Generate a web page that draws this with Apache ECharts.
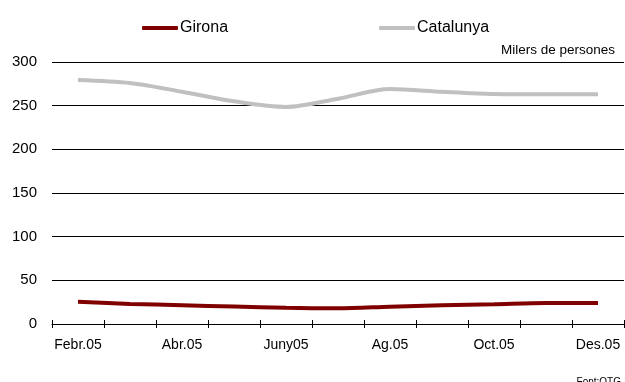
<!DOCTYPE html>
<html>
<head>
<meta charset="utf-8">
<script src="https://cdn.jsdelivr.net/npm/echarts@6/dist/echarts.min.js"></script>
<style>
  html, body { margin: 0; padding: 0; background: #fff; }
  #chart { width: 625px; height: 382px; }
</style>
</head>
<body>
<div id="chart"></div>
<script>
// mesos (febrer - desembre 2005)
var months = ["Febr.05", "Març.05", "Abr.05", "Maig.05", "Juny05", "Jul.05",
              "Ag.05", "Set.05", "Oct.05", "Nov.05", "Des.05"];
var girona = [25.5, 23, 21.5, 20, 18.5, 18, 19.8, 21.4, 22.6, 24, 24];
var catalunya = [279.5, 276, 266, 255, 248.5, 258, 269, 266, 263.5, 263, 263];
var yTicks = { min: 0, max: 300, step: 50 };

var font = "Liberation Sans, Arial, sans-serif";
var chart = echarts.init(document.getElementById("chart"));

var option = {
  animation: false,
  textStyle: { fontFamily: font },
  legend: {
    left: 137,
    top: 15,
    itemWidth: 36,
    itemHeight: 4,
    itemGap: 151,
    icon: "roundRect",
    textStyle: { fontSize: 16, color: "#000", padding: [0, 0, 0, -3] },
    data: ["Girona", "Catalunya"]
  },
  graphic: [
    {
      type: "text",
      right: 10,
      top: 43,
      style: { text: "Milers de persones", fontSize: 13.5, fill: "#000", fontFamily: font }
    },
    {
      type: "text",
      right: 4,
      top: 377,
      style: { text: "Font:OTG", fontSize: 10, fill: "#000", fontFamily: font }
    }
  ],
  grid: { left: 52, right: 1, top: 62, bottom: 58 },
  xAxis: [
    {
      type: "category",
      data: months,
      boundaryGap: true,
      axisLine: { lineStyle: { color: "#000", width: 1 } },
      axisTick: { show: true, interval: 0, length: 4, lineStyle: { color: "#000" } },
      axisLabel: { interval: 1, color: "#000", fontSize: 14, margin: 14 }
    },
    {
      type: "category",
      data: months,
      position: "bottom",
      boundaryGap: true,
      axisLine: { show: false },
      axisTick: { show: true, interval: 0, inside: true, length: 4, lineStyle: { color: "#000" } },
      axisLabel: { show: false }
    }
  ],
  yAxis: {
    type: "value",
    min: yTicks.min,
    max: yTicks.max,
    interval: yTicks.step,
    axisLine: { show: false },
    axisTick: { show: false },
    splitLine: { lineStyle: { color: "#000", width: 1 } },
    axisLabel: { color: "#000", fontSize: 15, margin: 15 }
  },
  series: [
    {
      name: "Girona",
      type: "line",
      data: girona,
      smooth: 0.3,
      showSymbol: false,
      itemStyle: { color: "#800000" },
      lineStyle: { color: "#800000", width: 4 }
    },
    {
      name: "Catalunya",
      type: "line",
      data: catalunya,
      smooth: 0.3,
      showSymbol: false,
      itemStyle: { color: "#c0c0c0" },
      lineStyle: { color: "#c0c0c0", width: 4 }
    }
  ]
};

chart.setOption(option);
</script>
</body>
</html>
